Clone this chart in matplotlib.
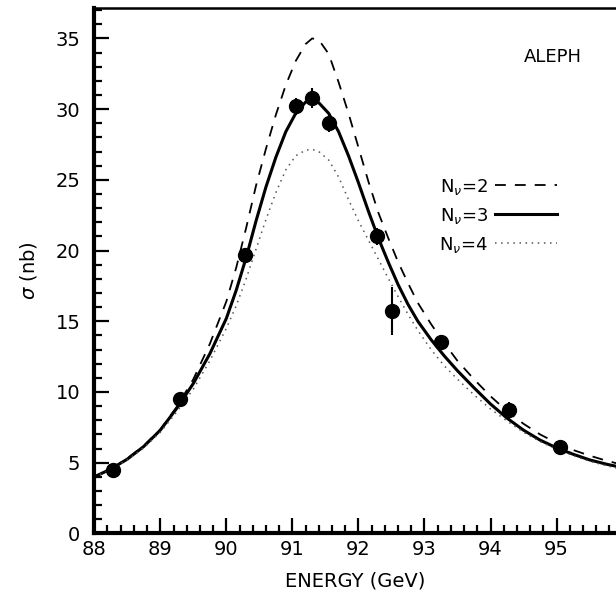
import matplotlib.pyplot as plt
from matplotlib.ticker import MultipleLocator

# measured cross sections (ALEPH)
energy = [88.28, 89.30, 90.28, 91.05, 91.29, 91.55, 92.28, 92.51, 93.25, 94.28, 95.05]
sigma = [4.5, 9.5, 19.7, 30.2, 30.8, 29.0, 21.0, 15.7, 13.5, 8.7, 6.1]
sigma_err = [0.3, 0.4, 0.5, 0.6, 0.7, 0.6, 0.6, 1.7, 0.5, 0.6, 0.4]

# lineshape curves
e_curve = [88.0, 88.25, 88.5, 88.75, 89.0, 89.25, 89.5, 89.75, 90.0, 90.15,
           90.3, 90.45, 90.6, 90.75, 90.9, 91.05, 91.2, 91.3, 91.4, 91.55,
           91.7, 91.85, 92.0, 92.15, 92.3, 92.45, 92.6, 92.75, 92.9, 93.1,
           93.3, 93.5, 93.75, 94.0, 94.25, 94.5, 94.75, 95.0, 95.25, 95.5,
           95.75, 96.0]
nu2 = [4.0, 4.55, 5.3, 6.2, 7.35, 8.95, 10.9, 13.4, 16.4, 18.8,
       21.6, 24.6, 27.2, 29.6, 31.7, 33.4, 34.6, 35.0, 34.9, 33.9,
       31.9, 29.7, 27.3, 24.9, 22.7, 20.9, 19.2, 17.7, 16.3, 14.8,
       13.45, 12.2, 10.9, 9.7, 8.65, 7.75, 7.0, 6.4, 5.9, 5.5,
       5.15, 4.85]
nu3 = [4.0, 4.55, 5.25, 6.15, 7.3, 8.85, 10.6, 12.7, 15.2, 17.2,
       19.5, 22.1, 24.5, 26.6, 28.4, 29.7, 30.5, 30.65, 30.45, 29.7,
       28.4, 26.7, 24.8, 22.8, 20.9, 19.2, 17.6, 16.2, 15.0, 13.7,
       12.55, 11.5, 10.3, 9.15, 8.15, 7.3, 6.6, 6.05, 5.6, 5.2,
       4.9, 4.65]
nu4 = [4.0, 4.5, 5.2, 6.05, 7.15, 8.6, 10.2, 12.2, 14.5, 16.1,
       18.0, 20.1, 22.2, 24.1, 25.7, 26.7, 27.1, 27.15, 27.0, 26.4,
       25.2, 23.6, 22.1, 20.75, 19.4, 18.05, 16.75, 15.5, 14.35, 13.0,
       11.85, 10.9, 9.8, 8.8, 7.95, 7.15, 6.5, 5.95, 5.5, 5.1,
       4.8, 4.5]

fig = plt.figure(figsize=(6.16, 5.98), dpi=100)
ax = fig.add_axes([0.153, 0.108, 0.847, 0.8786])

l2, = ax.plot(e_curve, nu2, color="black", lw=1.3, dashes=(6, 5),
              label=r"N$_\nu$=2")
l3, = ax.plot(e_curve, nu3, color="black", lw=2.2, label=r"N$_\nu$=3")
l4, = ax.plot(e_curve, nu4, color="#555555", lw=1.1, dashes=(1, 3),
              label=r"N$_\nu$=4")
ax.errorbar(energy, sigma, yerr=sigma_err, fmt="o", color="black",
            ms=10, elinewidth=1.5, capsize=0, zorder=5)

ax.set_xlim(88, 95.9)
ax.set_ylim(0, 37.15)
ax.xaxis.set_major_locator(MultipleLocator(1))
ax.xaxis.set_minor_locator(MultipleLocator(0.2))
ax.yaxis.set_major_locator(MultipleLocator(5))
ax.yaxis.set_minor_locator(MultipleLocator(1))
ax.tick_params(which="both", direction="in", top=False, right=False,
               labelsize=14, width=1.6)
ax.tick_params(which="major", length=11)
ax.tick_params(which="minor", length=6)
ax.tick_params(axis="y", which="major", pad=10)
ax.tick_params(axis="x", which="major", pad=5)
for s in ax.spines.values():
    s.set_linewidth(3)
ax.spines["top"].set_linewidth(1.8)
ax.spines["right"].set_visible(False)

ax.set_xlabel("ENERGY (GeV)", fontsize=14, labelpad=9)
ax.set_ylabel(r"$\sigma$ (nb)", fontsize=14, labelpad=12)
ax.text(94.95, 33.7, "ALEPH", fontsize=13, ha="center", va="center")

ax.legend(handles=[l2, l3, l4], loc="upper left",
          bbox_to_anchor=(0.63, 0.71), frameon=False, markerfirst=False,
          fontsize=13, handlelength=3.4, labelspacing=0.5, handletextpad=0.4)

fig.savefig("out.png", dpi=100)
